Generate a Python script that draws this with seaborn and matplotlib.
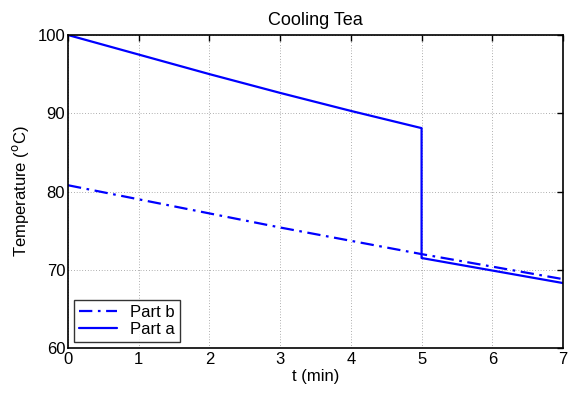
import matplotlib
matplotlib.use("Agg")
import matplotlib.pyplot as plt
import seaborn as sns
import pandas as pd

t_a = [0, 1, 2, 3, 4, 5, 5, 6, 7]
temp_a = [100.0, 97.5, 95.0, 92.6, 90.3, 88.1, 71.5, 69.9, 68.3]
t_b = [0, 1, 2, 3, 4, 5, 6, 7]
temp_b = [80.8, 79.0, 77.2, 75.4, 73.7, 72.0, 70.4, 68.8]
xticks = [0, 1, 2, 3, 4, 5, 6, 7]
yticks = [60, 70, 80, 90, 100]

sns.set_style("white")
plt.rcParams['font.family'] = ['Liberation Sans', 'DejaVu Sans']
plt.rcParams['font.size'] = 12
plt.rcParams['text.color'] = 'black'
plt.rcParams['axes.labelcolor'] = 'black'
plt.rcParams['xtick.color'] = 'black'
plt.rcParams['ytick.color'] = 'black'

fig = plt.figure(figsize=(5.69, 3.95), dpi=100)
ax = fig.add_axes([68/569, 1-348/395, (563-68)/569, (348-35)/395])

df_a = pd.DataFrame({"t": t_a, "T": temp_a})
df_b = pd.DataFrame({"t": t_b, "T": temp_b})

sns.lineplot(data=df_b, x="t", y="T", ax=ax, estimator=None, sort=False,
             color="#0000ff", lw=1.6, linestyle=(0, (6, 2.5, 1.2, 2.5)), label="Part b")
sns.lineplot(data=df_a, x="t", y="T", ax=ax, estimator=None, sort=False,
             color="#0000ff", lw=1.6, linestyle="-", label="Part a")

ax.set_xlim(0, 7)
ax.set_ylim(60, 100)
ax.set_xticks(xticks)
ax.set_yticks(yticks)
ax.grid(True, linestyle=(0, (1, 3)), color="#666666", lw=0.5)
ax.tick_params(direction="in", top=True, right=True, length=4, width=1, labelsize=12,
               colors="black", labelcolor="black", pad=3)
ax.tick_params(axis="y", pad=2)
for s in ax.spines.values():
    s.set_color("black")
    s.set_linewidth(1.2)
    s.set_visible(True)
ax.set_xlabel("t (min)", fontsize=12, labelpad=1, color="black")
ax.set_ylabel("Temperature ($^{\\mathrm{o}}$C)", fontsize=12, labelpad=5, color="black")
ax.set_title("Cooling Tea", fontsize=13, pad=7, color="black")

leg = ax.legend(loc="lower left", frameon=True, fancybox=False, fontsize=12,
                borderaxespad=0.35, handlelength=2.3, borderpad=0.3, labelspacing=0.15,
                handletextpad=0.8)
leg.get_frame().set_edgecolor("black")
leg.get_frame().set_linewidth(1.0)
for txt in leg.get_texts():
    txt.set_color("black")

fig.savefig("out.png", dpi=100, facecolor="white")
